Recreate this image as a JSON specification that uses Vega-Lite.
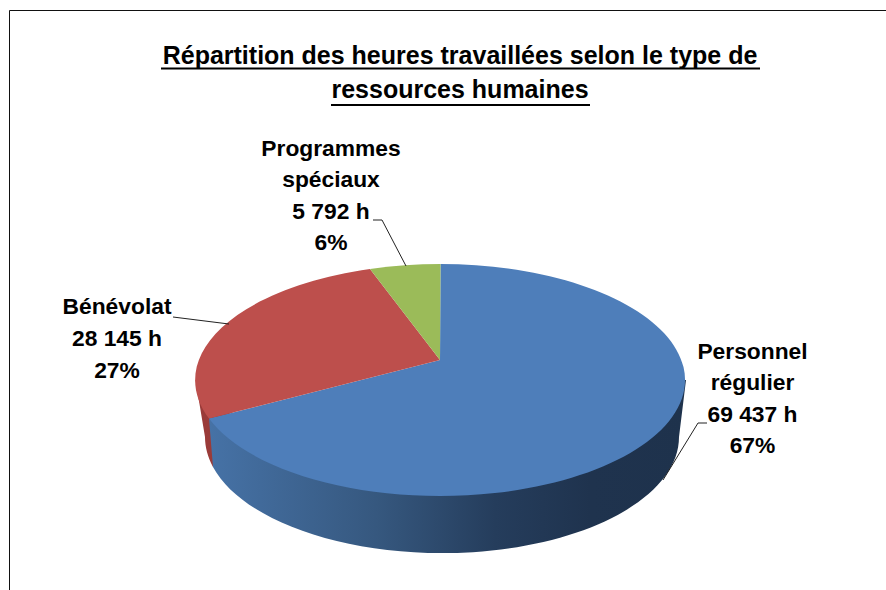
{
"$schema":"https://vega.github.io/schema/vega-lite/v6.json",
"width":886,"height":590,"padding":0,"autosize":{"type":"none"},"background":"white",
"config":{"view":{"stroke":null}},
"title":{"text":["Répartition des heures travaillées selon le type de","ressources humaines"],"anchor":"middle","font":"Liberation Sans","fontSize":25,"fontWeight":"bold","color":"#000000","lineHeight":34.5,"baseline":"middle","offset":-115,"dx":17},
"data":{"values":[
{"category":"Personnel régulier","hours":69437,"share":67,"label":"Personnel\nrégulier\n69 437 h\n67%"},
{"category":"Bénévolat","hours":28145,"share":27,"label":"Bénévolat\n28 145 h\n27%"},
{"category":"Programmes spéciaux","hours":5792,"share":6,"label":"Programmes\nspéciaux\n5 792 h\n6%"}
]},
"resolve":{"scale":{"shape":"independent"}},
"layer":[
{"data":{"values":[{"element":"cadre"}]},"mark":{"type":"point","shape":"M-433.5 295L-433.5 -284.5L443 -284.5","size":4,"filled":false,"stroke":"#111111","strokeWidth":1,"opacity":1}},
{"data":{"values":[{"element":"soulignement"}]},"mark":{"type":"point","shape":"M-282 -226.5L317 -226.5M-112 -190L147 -190","size":4,"filled":false,"stroke":"#000000","strokeWidth":2,"opacity":1}},
{"transform":[{"filter":"datum.category==='Bénévolat'"}],"mark":{"type":"point","shape":"M-247.5 85L-150 90L-225 124L-230 172A237 116 0 0 1 -238 142Z","size":4,"filled":true,"fill":"#9a3b39","opacity":1}},
{"transform":[{"filter":"datum.category==='Personnel régulier'"}],"mark":{"type":"point","shape":"M-234 123.6L-2.5 85L243 85L236 142A237 116 0 0 1 -230 172Z","size":4,"filled":true,"opacity":1,"fill":{"x1":0,"y1":0,"x2":1,"y2":0,"gradient":"linear","stops":[{"offset":0,"color":"#4672a6"},{"offset":0.35,"color":"#36587f"},{"offset":0.6,"color":"#253d5c"},{"offset":0.8,"color":"#1f334e"},{"offset":1,"color":"#1e324c"}]}}},
{"mark":{"type":"point","size":4,"filled":true,"opacity":1},"encoding":{
"shape":{"field":"category","type":"nominal","legend":null,"scale":{"domain":["Personnel régulier","Bénévolat","Programmes spéciaux"],"range":["M-3 65L-2.5 -31A245 116 0 1 1 -234 123.6Z","M-3 65L-234 123.6A245 116 0 0 1 -73 -26Z","M-3 65L-73 -26A245 116 0 0 1 -2.5 -31Z"]}},
"color":{"field":"category","type":"nominal","legend":null,"scale":{"domain":["Personnel régulier","Bénévolat","Programmes spéciaux"],"range":["#4e7eba","#bd4f4c","#9bbb59"]}}}},
{"mark":{"type":"point","size":4,"filled":false,"stroke":"#222222","strokeWidth":1,"opacity":1},"encoding":{
"shape":{"field":"category","type":"nominal","legend":null,"scale":{"domain":["Personnel régulier","Bénévolat","Programmes spéciaux"],"range":["M220 185L255 128L264 128","M-270 22L-214 29","M-70 -75L-61 -75L-37 -29"]}}}},
{"transform":[{"filter":"datum.category==='Personnel régulier'"}],"mark":{"type":"text","font":"Liberation Sans","fontSize":22.8,"fontWeight":"bold","align":"center","baseline":"middle","lineHeight":31.3,"lineBreak":"\n","dx":309.5,"dy":57,"color":"#000000"},"encoding":{"text":{"field":"label","type":"nominal"}}},
{"transform":[{"filter":"datum.category==='Bénévolat'"}],"mark":{"type":"text","font":"Liberation Sans","fontSize":22.8,"fontWeight":"bold","align":"center","baseline":"middle","lineHeight":32,"lineBreak":"\n","dx":-326,"dy":12,"color":"#000000"},"encoding":{"text":{"field":"label","type":"nominal"}}},
{"transform":[{"filter":"datum.category==='Programmes spéciaux'"}],"mark":{"type":"text","font":"Liberation Sans","fontSize":22.8,"fontWeight":"bold","align":"center","baseline":"middle","lineHeight":31.3,"lineBreak":"\n","dx":-112,"dy":-146,"color":"#000000"},"encoding":{"text":{"field":"label","type":"nominal"}}}
]
}
